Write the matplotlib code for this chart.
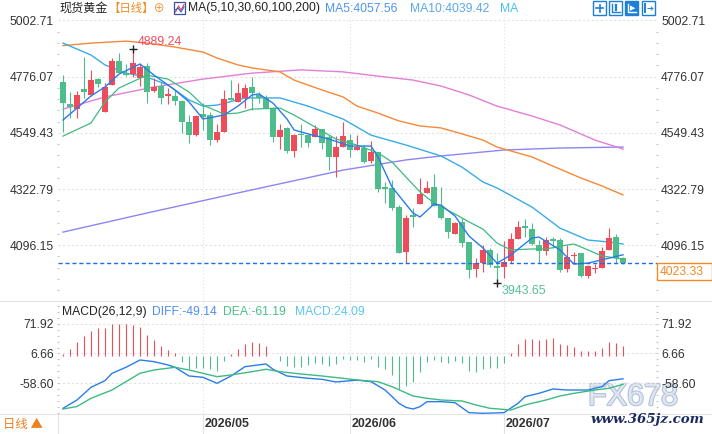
import matplotlib
matplotlib.use('Agg')
import matplotlib.pyplot as plt
import matplotlib.patches as mpatches
import matplotlib.transforms as mtransforms
import matplotlib.patheffects as pe
from matplotlib.lines import Line2D
from matplotlib.ticker import FixedLocator
import numpy as np

plt.rcParams['font.family'] = ['Liberation Sans', 'Noto Sans CJK SC', 'DejaVu Sans']

# ---- daily OHLC ----
opens = [4754, 4665, 4645, 4726, 4702, 4766, 4634, 4742, 4839, 4792,
         4785, 4769, 4819, 4719, 4739, 4699, 4698, 4679, 4592, 4541,
         4625, 4621, 4520, 4554, 4688, 4675, 4688, 4733, 4702, 4688,
         4648, 4534, 4567, 4477, 4545, 4541, 4534, 4564, 4534, 4453,
         4493, 4520, 4480, 4487, 4436, 4473, 4330, 4326, 4249, 4070,
         4218, 4262, 4308, 4330, 4254, 4207, 4141, 4191, 4110, 4001,
         4026, 4077, 4012, 4009, 4032, 4121, 4174, 4160, 4097, 4074,
         4120, 4117, 4000, 4053, 4063, 3973, 3999, 4005, 4077, 4128, 4043]
highs = [4782, 4714, 4718, 4854, 4803, 4772, 4749, 4850, 4870, 4827,
         4889.24, 4825, 4830, 4769, 4755, 4729, 4722, 4682, 4621, 4621,
         4668, 4634, 4585, 4722, 4762, 4749, 4746, 4775, 4715, 4702,
         4655, 4585, 4574, 4545, 4584, 4545, 4581, 4564, 4541, 4536,
         4594, 4545, 4541, 4500, 4516, 4473, 4352, 4359, 4258, 4218,
         4245, 4368, 4355, 4383, 4330, 4207, 4191, 4205, 4110, 4043,
         4097, 4084, 4063, 4114, 4147, 4194, 4202, 4184, 4117, 4130,
         4130, 4124, 4097, 4070, 4066, 4016, 4020, 4090, 4164, 4141, 4050]
lows = [4554, 4608, 4608, 4688, 4698, 4735, 4634, 4742, 4789, 4778,
        4776, 4739, 4671, 4715, 4664, 4664, 4661, 4547, 4509, 4536,
        4561, 4500, 4513, 4554, 4682, 4675, 4648, 4641, 4671, 4648,
        4513, 4483, 4467, 4453, 4491, 4491, 4534, 4483, 4399, 4370,
        4491, 4450, 4480, 4426, 4426, 4312, 4265, 4238, 4066, 4026,
        4171, 4262, 4308, 4254, 4202, 4124, 4141, 4090, 3963, 3967,
        3989, 4009, 3943.65, 3963, 4026, 4121, 4130, 4097, 4026, 4057,
        4084, 3989, 3989, 4023, 3969, 3963, 3985, 4003, 4077, 4023, 4020]
closes = [4671, 4653, 4702, 4715, 4762, 4747, 4733, 4839, 4789, 4782,
          4830, 4813, 4715, 4733, 4691, 4705, 4679, 4594, 4541, 4617,
          4614, 4520, 4554, 4684, 4682, 4709, 4729, 4709, 4688, 4648,
          4534, 4561, 4477, 4541, 4541, 4507, 4564, 4507, 4453, 4491,
          4538, 4480, 4491, 4430, 4473, 4323, 4324, 4245, 4066, 4207,
          4211, 4303, 4326, 4254, 4207, 4151, 4184, 4106, 3996, 4023,
          4077, 4016, 4005, 4030, 4121, 4171, 4164, 4101, 4074, 4117,
          4114, 3996, 4050, 4057, 3972, 4012, 4003, 4073, 4124, 4043, 4023.33]

month_idx = [20, 41, 63]
month_labels = ['2026/05', '2026/06', '2026/07']

# ---- moving averages (day index, value) ----
ma5_x = [0, 2, 4, 6, 8, 11, 13, 16, 18, 20, 23, 25, 27, 28, 30, 32, 33, 35, 38, 41,
         44, 45, 47, 50, 51, 53, 54, 56, 58, 60, 62, 64, 67, 68, 71, 73, 75, 78, 80]
ma5_v = [4601, 4649, 4698, 4734, 4786, 4827, 4782, 4722, 4674, 4605, 4621, 4657, 4702,
         4706, 4669, 4605, 4561, 4545, 4524, 4496, 4496, 4452, 4331, 4226, 4210, 4262,
         4258, 4214, 4133, 4085, 4024, 4057, 4125, 4129, 4077, 4020, 4024, 4044, 4057.56]
ma10_x = [0, 4, 6, 8, 12, 15, 18, 20, 23, 25, 27, 31, 33, 36, 39, 42, 45, 47, 49, 51,
          53, 56, 58, 60, 62, 64, 67, 69, 72, 73, 75, 77, 80]
ma10_v = [4536, 4589, 4674, 4730, 4782, 4766, 4714, 4661, 4625, 4629, 4645, 4649, 4621,
          4573, 4524, 4500, 4468, 4432, 4371, 4311, 4266, 4222, 4190, 4161, 4105, 4077,
          4081, 4081, 4097, 4101, 4077, 4053, 4039.42]
ma30_x = [0, 4, 6, 9, 12, 15, 18, 20, 22, 26, 31, 35, 40, 44, 49, 54, 57, 60, 62, 67,
          71, 75, 78, 80]
ma30_v = [4911, 4863, 4823, 4790, 4774, 4742, 4682, 4657, 4661, 4690, 4690, 4657, 4605,
          4540, 4500, 4456, 4411, 4351, 4327, 4250, 4165, 4117, 4109, 4101]
ma60_x = [0, 4, 9, 12, 16, 20, 22, 25, 27, 31, 33, 37, 40, 42, 45, 48, 51, 54, 57, 60,
          62, 67, 70, 74, 77, 80]
ma60_v = [4901, 4911, 4919, 4911, 4895, 4875, 4851, 4823, 4811, 4795, 4762, 4722, 4694,
          4657, 4629, 4597, 4577, 4569, 4545, 4520, 4492, 4452, 4415, 4367, 4335, 4299]
ma100_x = [0, 6, 13, 20, 27, 34, 40, 45, 50, 54, 58, 62, 67, 71, 76, 80]
ma100_v = [4645, 4694, 4734, 4766, 4790, 4803, 4795, 4778, 4762, 4738, 4702, 4657, 4617,
           4581, 4520, 4484]
ma200_x = [0, 12, 25, 40, 49, 54, 60, 63, 71, 80]
ma200_v = [4149, 4226, 4307, 4399, 4440, 4456, 4472, 4480, 4488, 4492]

# ---- MACD(26,12,9) ----
macd_hist = [4.4, 15.4, 31.5, 44.7, 55.7, 61.6, 61.6, 70.4, 70.4, 70.4, 68.2, 64.5, 46.2,
             35.2, 22.7, 13.2, 8.1, -12.5, -28.6, -26.4, -26.4, -28.6, -32.3, -10.3, 4.4,
             16.9, 26.4, 31.5, 30.1, 22.7, 1.5, -10.3, -21.3, -22.7, -22.7, -19.8, -13.9,
             -17.6, -21.3, -17.6, -6.6, -8.1, -8.0, -12.5, -6.6, -22.7, -28.6, -41.8, -71.1,
             -65.2, -56.4, -34.5, -12.5, -8.1, -12.5, -13.9, -10.3, -15.4, -32.3, -34.5,
             -27.1, -24.9, -24.9, -13.9, 6.6, 26.4, 38.8, 38.8, 35.9, 38.8, 41.0, 26.4, 24.2,
             21.3, 11.7, 11.7, 11.7, 19.1, 32.3, 30.1, 24.09]
diff_x = [0, 2, 4, 6, 7, 9, 11, 13, 15, 16, 18, 20, 22, 24, 26, 29, 30, 32, 35, 37, 39,
          42, 44, 46, 47, 48, 49, 50, 51, 52, 54, 56, 58, 60, 63, 65, 66, 68, 70, 72, 75,
          77, 78, 80]
diff_v = [-114, -95.7, -67.8, -53.2, -37, -23.8, -7.7, -11.4, -18.7, -23.8, -42.9, -45.8,
          -59, -42.9, -22.4, -16.5, -28.2, -42.9, -48, -50.2, -56.1, -52, -55.4, -73.7,
          -88, -103, -112, -115.5, -110.4, -99.4, -99.4, -101.6, -123.6, -125, -123.6,
          -103, -88.4, -81, -71.5, -73.7, -73.7, -66.4, -53.2, -49.14]
dea_x = [0, 2, 4, 7, 9, 11, 13, 16, 18, 20, 22, 24, 27, 29, 31, 34, 37, 40, 42, 45, 47,
         50, 52, 54, 57, 59, 61, 64, 66, 69, 71, 73, 76, 78, 80]
dea_v = [-115.5, -110, -92, -73.7, -55.4, -37, -29.7, -23.8, -29.7, -37, -44.4, -40.7,
         -33.4, -28.2, -33.4, -38.5, -42.9, -48, -51.7, -55.4, -66.4, -86.9, -92, -95.7,
         -97.9, -106.7, -114, -117.7, -106.7, -95.7, -86.9, -81, -73.7, -70, -61.19]

main_ticks = [5002.71, 4776.07, 4549.43, 4322.79, 4096.15]
macd_ticks = [71.92, 6.66, -58.60]

RED = '#ee4b5b'
GREEN = '#4fbd8b'
GRID = '#e2e2e2'
TXT = '#333333'

W, H = 712, 434
fig = plt.figure(figsize=(W / 100, H / 100), dpi=100, facecolor='white')


def fx(px):
    return px / W


def fy(py):
    return 1 - py / H


AX_L, AX_R = 58, 657
ax = fig.add_axes([fx(AX_L), fy(301), (AX_R - AX_L) / W, (301 - 14) / H])
axm = fig.add_axes([fx(AX_L), fy(414), (AX_R - AX_L) / W, (414 - 301) / H], sharex=ax)

for a in (ax, axm):
    a.set_facecolor('none')
    for s in a.spines.values():
        s.set_visible(False)
    a.set_xticks([])
    a.tick_params(axis='y', which='major', length=0, labelleft=True, labelright=True,
                  labelsize=8.7, labelcolor=TXT, pad=3)
    a.tick_params(axis='y', which='minor', length=2, width=0.8, color='#c4c4c4',
                  direction='inout', left=True, right=True)

ax.set_xlim(-0.714, 84.857)

# ---- candles ----
x = np.arange(len(opens))
o = np.array(opens, dtype=float)
c = np.array(closes, dtype=float)
hi = np.array(highs, dtype=float)
lo = np.array(lows, dtype=float)
cols = np.where(c >= o, RED, GREEN)
ax.vlines(x, lo, hi, colors=cols, lw=0.8, zorder=3)
ax.bar(x, np.maximum(np.abs(c - o), 4), bottom=np.minimum(o, c), width=0.72,
       color=cols, lw=0, zorder=4)

ax.plot(ma200_x, ma200_v, color='#8c86f4', lw=1.0, zorder=2)
ax.plot(ma100_x, ma100_v, color='#e27fd8', lw=1.0, zorder=2)
ax.plot(ma60_x, ma60_v, color='#f5893a', lw=1.0, zorder=2)
ax.plot(ma30_x, ma30_v, color='#38ace8', lw=1.0, zorder=2)
ax.plot(ma10_x, ma10_v, color='#3dba82', lw=0.9, zorder=5)
ax.plot(ma5_x, ma5_v, color='#2a7de8', lw=1.0, zorder=5)

ax.set_ylim(3871.2, 5028.4)
ax.set_yticks(main_ticks)
ax.set_yticklabels([f'{v:.2f}' for v in main_ticks])
ax.yaxis.set_minor_locator(FixedLocator(np.arange(main_ticks[0], 3870, -45.328)))
for v in main_ticks:
    ax.axhline(v, color=GRID, lw=0.8, ls=(0, (2, 2)), zorder=0)
for m in month_idx:
    ax.axvline(m, color=GRID, lw=0.8, ls=(0, (1, 2)), zorder=0)

last = closes[-1]
ax.axhline(last, color='#1f6fe0', lw=1.0, ls=(0, (3, 2)), zorder=6)

hi_i = int(np.argmax(hi))
lo_i = int(np.argmin(lo))
ax.plot(hi_i, hi[hi_i], marker='+', ms=6, mew=1, color='#222222', zorder=7)
ax.annotate(f'{hi[hi_i]:.2f}', xy=(hi_i, hi[hi_i]), xytext=(5, 7),
            textcoords='offset pixels', ha='left', va='center', color=RED, fontsize=8.9)
ax.plot(lo_i, lo[lo_i], marker='+', ms=6, mew=1, color='#222222', zorder=7)
ax.annotate(f'{lo[lo_i]:.2f}', xy=(lo_i, lo[lo_i]), xytext=(5, -7.5),
            textcoords='offset pixels', ha='left', va='center', color='#56c196', fontsize=8.9)

# last-price box on the right axis
btr = mtransforms.blended_transform_factory(fig.transFigure, ax.transData)
box_h = 17 * (5028.4 - 3871.2) / 287
fig.patches.append(mpatches.Rectangle((fx(656.5), last - box_h), 55 / W, box_h,
                                      transform=btr, fill=True, facecolor='white',
                                      edgecolor='#f08a24', lw=1, zorder=8))
fig.text(fx(660), last - box_h / 2, f'{last:.2f}', transform=btr, ha='left',
         va='center', color='#f08a24', fontsize=8.7, zorder=9)

# ---- MACD panel ----
hist = np.array(macd_hist)
axm.vlines(x, 0, hist, colors=np.where(hist >= 0, RED, GREEN), lw=0.8, zorder=3)
axm.plot(diff_x, diff_v, color='#2a7de8', lw=1.0, zorder=4)
axm.plot(dea_x, dea_v, color='#3dba82', lw=1.0, zorder=4)
axm.set_ylim(-126.5, 122)
axm.set_yticks(macd_ticks)
axm.set_yticklabels([f'{v:.2f}' for v in macd_ticks])
axm.yaxis.set_minor_locator(FixedLocator(np.arange(macd_ticks[0] + 39.16, -127, -13.052)))
for v in macd_ticks:
    axm.axhline(v, color=GRID, lw=0.8, ls=(0, (2, 2)), zorder=0)
for m in month_idx:
    axm.axvline(m, color=GRID, lw=0.8, ls=(0, (1, 2)), zorder=0)

# date axis
dtr = mtransforms.blended_transform_factory(axm.transData, fig.transFigure)
for m, lab in zip(month_idx, month_labels):
    axm.plot([m, m], [fy(414), 0], transform=dtr, color=GRID, lw=0.8, clip_on=False)
    axm.annotate(lab, xy=(m, 0), xycoords=('data', 'axes fraction'), xytext=(2, -10),
                 textcoords='offset pixels', ha='left', va='center', fontsize=8.9,
                 fontweight='bold', color=TXT)

# separators
for yy in (301, 414):
    fig.add_artist(Line2D([0, 1], [fy(yy), fy(yy)], color='#e4e4e4', lw=0.8))
fig.add_artist(Line2D([fx(58), fx(58)], [fy(414), 0], color='#e4e4e4', lw=0.8))

# ---- header texts ----
ty = fy(8.5)
fig.text(fx(60), ty, '现货黄金', ha='left', va='center', fontsize=8.7, color='#222222')
fig.text(fx(108.5), ty, '【日线】⊕', ha='left', va='center', fontsize=8.2,
         color='#f08a24', family=['Noto Sans CJK SC', 'DejaVu Sans'])
fig.patches.append(mpatches.Rectangle((fx(174), fy(14)), 11 / W, 12 / H,
                                      transform=fig.transFigure, facecolor='white',
                                      edgecolor='#3a4fa0', lw=0.9))
fig.add_artist(Line2D([fx(175.5), fx(178.5), fx(181), fx(184)],
                      [fy(12), fy(6), fy(10), fy(4.5)], color='#e8404a', lw=0.8))
fig.add_artist(Line2D([fx(175.5), fx(178), fx(181), fx(184)],
                      [fy(10), fy(8), fy(12), fy(7)], color='#3060d0', lw=0.8))
fig.text(fx(188), ty, 'MA(5,10,30,60,100,200)', ha='left', va='center', fontsize=8.7,
         color='#222222')
fig.text(fx(325), ty, f'MA5:{ma5_v[-1]:.2f}', ha='left', va='center', fontsize=8.7,
         color='#4c94f0')
fig.text(fx(410), ty, f'MA10:{ma10_v[-1]:.2f}', ha='left', va='center', fontsize=8.7,
         color='#58a8ec')
fig.text(fx(500), ty, 'MA', ha='left', va='center', fontsize=8.7, color='#46c3ea')

# toolbar icons (top right)
ICON = '#1e7fd6'
for i, x0 in enumerate([593, 609, 625, 642]):
    fig.patches.append(mpatches.Rectangle((fx(x0), fy(14.5)), 13 / W, 13 / H,
                                          transform=fig.transFigure,
                                          facecolor=ICON if i == 2 else 'white',
                                          edgecolor=ICON, lw=1))
fig.add_artist(Line2D([fx(596), fx(603)], [fy(8), fy(8)], color=ICON, lw=1.2))
fig.add_artist(Line2D([fx(599.5), fx(599.5)], [fy(4.5), fy(11.5)], color=ICON, lw=1.2))
fig.add_artist(Line2D([fx(612), fx(612), fx(619.5)], [fy(4), fy(11.5), fy(11.5)],
                      color=ICON, lw=1))
fig.add_artist(Line2D([fx(615.5), fx(615.5)], [fy(5), fy(9.5)], color=ICON, lw=1.6))
fig.add_artist(Line2D([fx(628), fx(628), fx(635.5)], [fy(4), fy(11.5), fy(11.5)],
                      color='white', lw=1))
fig.text(fx(632.5), fy(8), '▶', ha='center', va='center', fontsize=5, color='white',
         family=['DejaVu Sans'])
fig.add_artist(Line2D([fx(645), fx(645)], [fy(4), fy(11.5)], color=ICON, lw=1.4))
fig.text(fx(650), fy(8), '➔', ha='center', va='center', fontsize=6, color=ICON,
         family=['DejaVu Sans'])

# MACD legend
my = fy(311.7)
fig.text(fx(62), my, 'MACD(26,12,9)', ha='left', va='center', fontsize=8.7, color='#222222')
fig.text(fx(152), my, f'DIFF:{diff_v[-1]:.2f}', ha='left', va='center', fontsize=8.7,
         color='#4c8ff0')
fig.text(fx(223), my, f'DEA:{dea_v[-1]:.2f}', ha='left', va='center', fontsize=8.7,
         color='#4cc08a')
fig.text(fx(295), my, f'MACD:{macd_hist[-1]:.2f}', ha='left', va='center', fontsize=8.7,
         color='#5ac8f0')

# period switch box bottom-left
fig.text(fx(3), fy(424.5), '日线 ▲', ha='left', va='center', fontsize=8.9,
         color='#f07f1e', family=['Noto Sans CJK SC', 'DejaVu Sans'])

# watermark (behind the axes, which are transparent)
fig.text(fx(633), fy(397), 'FX678', ha='center', va='center', fontsize=22,
         color='#dfe6f1', zorder=-1,
         path_effects=[pe.withStroke(linewidth=1.6, foreground='#b4c1d8')])
fig.text(fx(647), fy(419.5), 'www.365jz.com', ha='center', va='center', fontsize=9.6,
         color='#1b2b5e', family=['DejaVu Serif'], style='italic', fontweight='bold',
         zorder=20)

fig.savefig('out.png', dpi=100, facecolor='white')
